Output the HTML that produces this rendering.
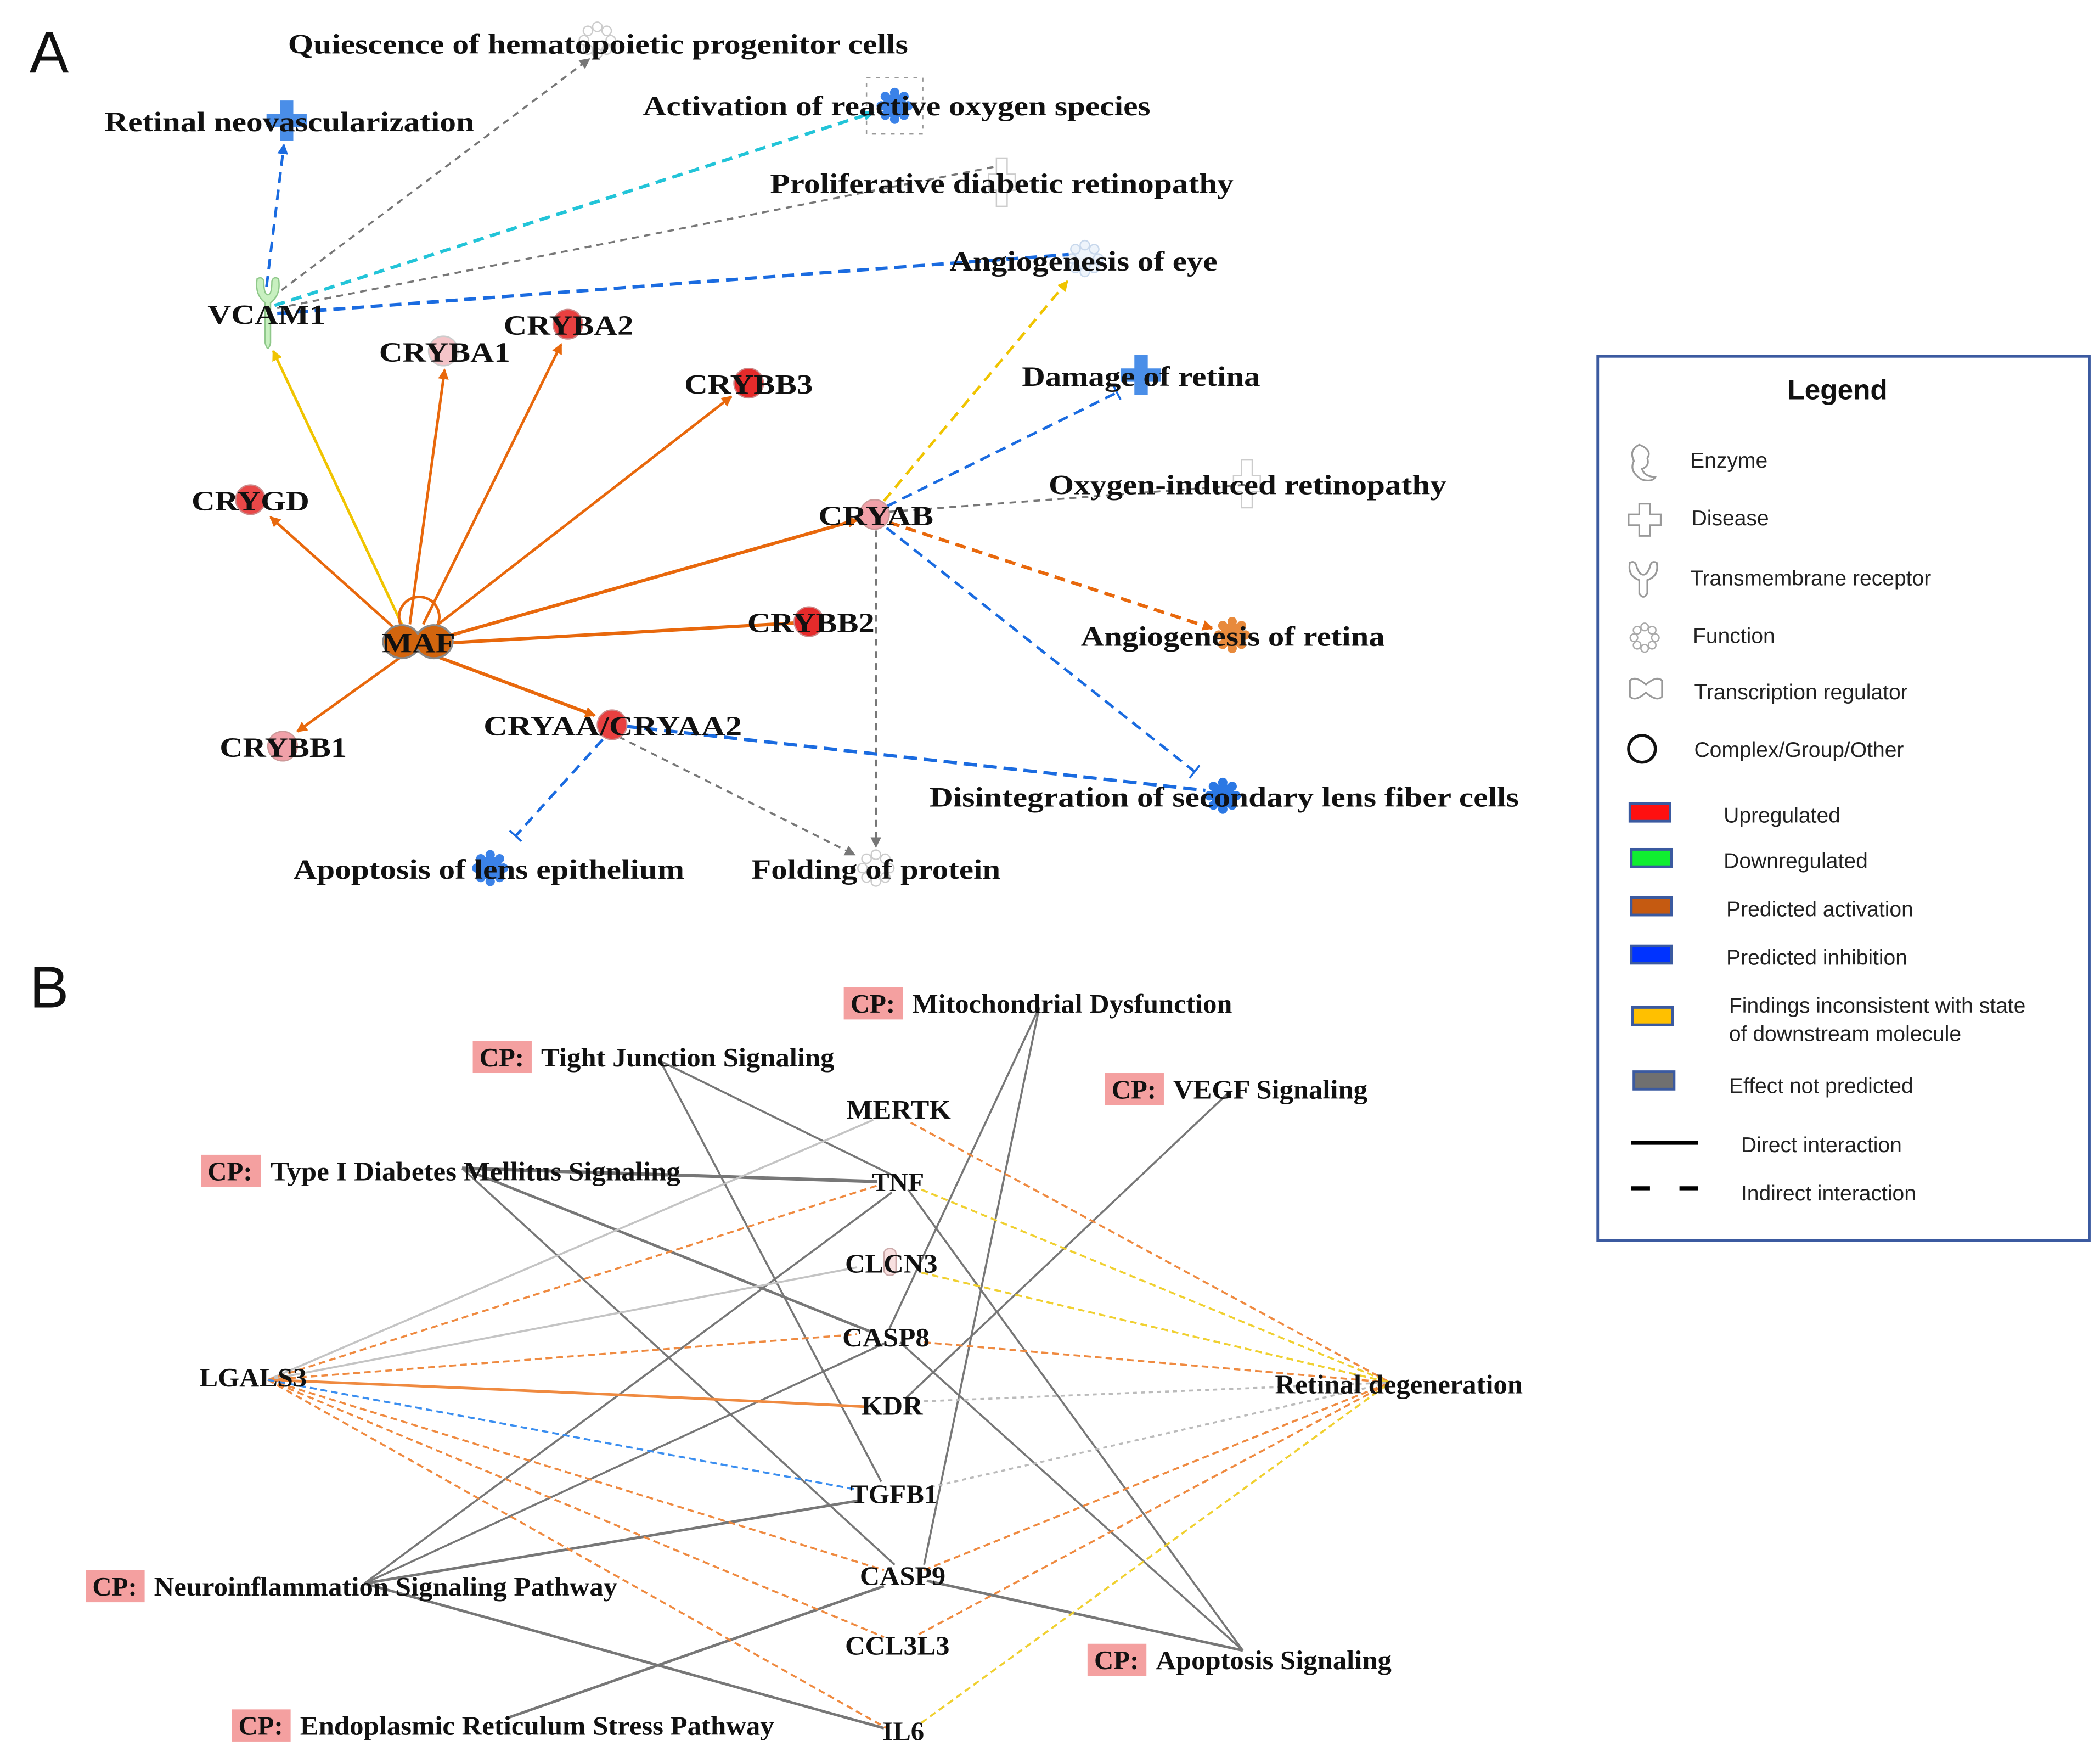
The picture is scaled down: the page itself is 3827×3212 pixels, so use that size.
<!DOCTYPE html>
<html><head><meta charset="utf-8"><style>
html,body{margin:0;padding:0;background:#fff}
svg{display:block}
.n{font-family:"Liberation Serif",serif;font-weight:bold;font-size:21px;fill:#111}
.s{font-family:"Liberation Sans",sans-serif;font-size:16px;fill:#222}
</style></head><body>
<svg width="3827" height="3212" viewBox="0 0 1568 1316" xmlns="http://www.w3.org/2000/svg">
<defs>
<marker id="ao" markerWidth="8" markerHeight="8" refX="7" refY="4" orient="auto" markerUnits="userSpaceOnUse"><path d="M0,0L8,4L0,8z" fill="#e8680c"/></marker>
<marker id="ay" markerWidth="8" markerHeight="8" refX="7" refY="4" orient="auto" markerUnits="userSpaceOnUse"><path d="M0,0L8,4L0,8z" fill="#f0c400"/></marker>
<marker id="ag" markerWidth="8" markerHeight="8" refX="7" refY="4" orient="auto" markerUnits="userSpaceOnUse"><path d="M0,0L8,4L0,8z" fill="#777"/></marker>
<marker id="ab" markerWidth="8" markerHeight="8" refX="7" refY="4" orient="auto" markerUnits="userSpaceOnUse"><path d="M0,0L8,4L0,8z" fill="#1a6be0"/></marker>
<marker id="ac" markerWidth="8" markerHeight="8" refX="7" refY="4" orient="auto" markerUnits="userSpaceOnUse"><path d="M0,0L8,4L0,8z" fill="#22c4d8"/></marker>
<marker id="tb" markerWidth="4" markerHeight="12" refX="2" refY="6" orient="auto" markerUnits="userSpaceOnUse"><path d="M2,0L2,12" stroke="#1a6be0" stroke-width="1.5"/></marker>
<g id="gear"><circle r="9"/><circle cx="0" cy="-10" r="3.5"/><circle cx="0" cy="10" r="3.5"/><circle cx="10" cy="0" r="3.5"/><circle cx="-10" cy="0" r="3.5"/><circle cx="7" cy="7" r="3.5"/><circle cx="-7" cy="7" r="3.5"/><circle cx="7" cy="-7" r="3.5"/><circle cx="-7" cy="-7" r="3.5"/></g>
<path id="cross" d="M-5,-15H5V-5H15V5H5V15H-5V5H-15V-5H-5Z"/>
</defs>

<text x="22" y="54" font-family="Liberation Sans,sans-serif" font-size="44" fill="#111">A</text>
<text x="22" y="752" font-family="Liberation Sans,sans-serif" font-size="44" fill="#111">B</text>

<!-- Panel A icons -->
<use href="#gear" x="446" y="30" fill="#fff" stroke="#ccc" stroke-width="1"/>
<use href="#cross" x="214" y="90" fill="#4a8ee8"/>
<rect x="647" y="58" width="42" height="42" fill="none" stroke="#999" stroke-dasharray="3,4"/>
<use href="#gear" x="668" y="79" fill="#3b82e8"/>
<path d="M744,118h8v12h6v12h-6v12h-8v-12h-6v-12h6z" fill="#fff" stroke="#ccc"/>
<use href="#gear" x="810" y="193" fill="#eef4fb" stroke="#c8d8ec"/>
<use href="#cross" x="852" y="280" fill="#4a8ee8"/>
<path d="M927,343h8v12h6v12h-6v12h-8v-12h-6v-12h6z" fill="#fff" stroke="#ccc"/>
<use href="#gear" x="920" y="474" fill="#e88a3c"/>
<use href="#gear" x="913" y="594" fill="#2b78e4"/>
<use href="#gear" x="366" y="648" fill="#3b82e8"/>
<use href="#gear" x="654" y="648" fill="#fff" stroke="#ccc"/>

<!-- Panel A edges -->
<g fill="none" stroke-width="2">
<line x1="199" y1="214" x2="212" y2="108" stroke="#1a6be0" stroke-dasharray="8,5" marker-end="url(#ab)"/>
<line x1="203" y1="222" x2="440" y2="44" stroke="#777" stroke-width="1.5" stroke-dasharray="5,4" marker-end="url(#ag)"/>
<line x1="205" y1="228" x2="652" y2="84" stroke="#22c4d8" stroke-width="2.5" stroke-dasharray="8,5" marker-end="url(#ac)"/>
<line x1="207" y1="230" x2="745" y2="124" stroke="#777" stroke-width="1.5" stroke-dasharray="5,4"/>
<line x1="207" y1="234" x2="798" y2="190" stroke="#1a6be0" stroke-width="2.5" stroke-dasharray="9,5"/>
<line x1="300" y1="466" x2="204" y2="262" stroke="#f0c400" marker-end="url(#ay)"/>
<line x1="306" y1="466" x2="332" y2="276" stroke="#e8680c" marker-end="url(#ao)"/>
<line x1="316" y1="466" x2="419" y2="257" stroke="#e8680c" marker-end="url(#ao)"/>
<line x1="322" y1="470" x2="546" y2="296" stroke="#e8680c" marker-end="url(#ao)"/>
<line x1="298" y1="472" x2="202" y2="386" stroke="#e8680c" marker-end="url(#ao)"/>
<line x1="330" y1="476" x2="640" y2="388" stroke="#e8680c" stroke-width="2.5" marker-end="url(#ao)"/>
<line x1="334" y1="480" x2="594" y2="465" stroke="#e8680c" stroke-width="2.5"/>
<line x1="300" y1="490" x2="222" y2="546" stroke="#e8680c" marker-end="url(#ao)"/>
<line x1="326" y1="490" x2="444" y2="534" stroke="#e8680c" stroke-width="2.5" marker-end="url(#ao)"/>
<path d="M300,468 A15,15 0 1 1 326,468" stroke="#e8680c"/>
<line x1="660" y1="374" x2="797" y2="210" stroke="#f0c400" stroke-dasharray="8,5" marker-end="url(#ay)"/>
<line x1="662" y1="378" x2="834" y2="293" stroke="#1a6be0" stroke-dasharray="8,5" marker-end="url(#tb)"/>
<line x1="664" y1="382" x2="930" y2="362" stroke="#777" stroke-width="1.5" stroke-dasharray="5,4"/>
<line x1="664" y1="390" x2="905" y2="469" stroke="#e8680c" stroke-width="2.5" stroke-dasharray="8,5" marker-end="url(#ao)"/>
<line x1="662" y1="394" x2="892" y2="576" stroke="#1a6be0" stroke-dasharray="8,5" marker-end="url(#tb)"/>
<line x1="654" y1="396" x2="654" y2="632" stroke="#777" stroke-width="1.5" stroke-dasharray="5,4" marker-end="url(#ag)"/>
<line x1="450" y1="552" x2="385" y2="624" stroke="#1a6be0" stroke-dasharray="8,5" marker-end="url(#tb)"/>
<line x1="462" y1="550" x2="638" y2="638" stroke="#777" stroke-width="1.5" stroke-dasharray="5,4" marker-end="url(#ag)"/>
<line x1="466" y1="542" x2="900" y2="590" stroke="#1a6be0" stroke-width="2.5" stroke-dasharray="10,5"/>
</g>

<!-- Panel A nodes -->
<path d="M192,208 q-2,12 6,18 v30 q2,8 4,0 v-30 q8,-6 6,-18 q-4,-2 -5,2 q0,10 -3,10 q-3,0 -3,-10 q-1,-4 -5,-2z" fill="#c8f0c0" stroke="#8fc88a"/>
<circle cx="331" cy="262" r="11" fill="#f4c4c8" stroke="#ccc"/>
<circle cx="424" cy="242" r="11" fill="#e84040" stroke="#c88"/>
<circle cx="559" cy="286" r="11" fill="#e52b2b" stroke="#c88"/>
<circle cx="187" cy="373" r="11" fill="#e84848" stroke="#c88"/>
<circle cx="653" cy="384" r="11" fill="#f0a0a8" stroke="#c99"/>
<circle cx="604" cy="464" r="11" fill="#e52b2b" stroke="#c88"/>
<circle cx="211" cy="557" r="11" fill="#f0a0a8" stroke="#c99"/>
<circle cx="457" cy="541" r="11" fill="#e84040" stroke="#c88"/>
<path d="M286,479 a14,13 0 0 1 26,-6 a14,13 0 0 1 26,6 a14,13 0 0 1 -26,6 a14,13 0 0 1 -26,-6z" fill="#d2650e" stroke="#888" stroke-width="1.5"/>

<!-- Panel A labels -->
<g class="n">
<text x="215" y="40" textLength="463" lengthAdjust="spacingAndGlyphs">Quiescence of hematopoietic progenitor cells</text>
<text x="78" y="98" textLength="276" lengthAdjust="spacingAndGlyphs">Retinal neovascularization</text>
<text x="480" y="86" textLength="379" lengthAdjust="spacingAndGlyphs">Activation of reactive oxygen species</text>
<text x="575" y="144" textLength="346" lengthAdjust="spacingAndGlyphs">Proliferative diabetic retinopathy</text>
<text x="709" y="202" textLength="200" lengthAdjust="spacingAndGlyphs">Angiogenesis of eye</text>
<text x="155" y="242" textLength="88" lengthAdjust="spacingAndGlyphs">VCAM1</text>
<text x="283" y="270" textLength="98" lengthAdjust="spacingAndGlyphs">CRYBA1</text>
<text x="376" y="250" textLength="97" lengthAdjust="spacingAndGlyphs">CRYBA2</text>
<text x="511" y="294" textLength="96" lengthAdjust="spacingAndGlyphs">CRYBB3</text>
<text x="143" y="381" textLength="88" lengthAdjust="spacingAndGlyphs">CRYGD</text>
<text x="611" y="392" textLength="86" lengthAdjust="spacingAndGlyphs">CRYAB</text>
<text x="285" y="487" textLength="55" lengthAdjust="spacingAndGlyphs">MAF</text>
<text x="558" y="472" textLength="95" lengthAdjust="spacingAndGlyphs">CRYBB2</text>
<text x="164" y="565" textLength="95" lengthAdjust="spacingAndGlyphs">CRYBB1</text>
<text x="361" y="549" textLength="193" lengthAdjust="spacingAndGlyphs">CRYAA/CRYAA2</text>
<text x="763" y="288" textLength="178" lengthAdjust="spacingAndGlyphs">Damage of retina</text>
<text x="783" y="369" textLength="297" lengthAdjust="spacingAndGlyphs">Oxygen-induced retinopathy</text>
<text x="807" y="482" textLength="227" lengthAdjust="spacingAndGlyphs">Angiogenesis of retina</text>
<text x="694" y="602" textLength="440" lengthAdjust="spacingAndGlyphs">Disintegration of secondary lens fiber cells</text>
<text x="219" y="656" textLength="292" lengthAdjust="spacingAndGlyphs">Apoptosis of lens epithelium</text>
<text x="561" y="656" textLength="186" lengthAdjust="spacingAndGlyphs">Folding of protein</text>
</g>

<!-- Panel B edges -->
<g fill="none" stroke-width="1.5">
<g stroke="#777">
<line x1="776" y1="752" x2="664" y2="992"/>
<line x1="776" y1="752" x2="690" y2="1168"/>
<line x1="493" y1="792" x2="658" y2="1106"/>
<line x1="493" y1="792" x2="668" y2="878"/>
<line x1="918" y1="815" x2="676" y2="1044"/>
<line x1="345" y1="872" x2="655" y2="882" stroke-width="2.5"/>
<line x1="345" y1="872" x2="650" y2="994" stroke-width="2"/>
<line x1="345" y1="872" x2="668" y2="1168"/>
<line x1="272" y1="1182" x2="666" y2="890"/>
<line x1="272" y1="1182" x2="662" y2="1002"/>
<line x1="272" y1="1182" x2="642" y2="1120" stroke-width="2"/>
<line x1="272" y1="1182" x2="660" y2="1290" stroke-width="2"/>
<line x1="380" y1="1282" x2="660" y2="1184" stroke-width="2"/>
<line x1="928" y1="1232" x2="678" y2="888"/>
<line x1="928" y1="1232" x2="672" y2="1002"/>
<line x1="928" y1="1232" x2="692" y2="1180" stroke-width="2"/>
</g>
<line x1="200" y1="1030" x2="652" y2="836" stroke="#c4c4c4"/>
<line x1="200" y1="1030" x2="640" y2="946" stroke="#c4c4c4"/>
<g stroke="#ef8a40" stroke-dasharray="5,3">
<line x1="200" y1="1030" x2="655" y2="885"/>
<line x1="200" y1="1030" x2="640" y2="996"/>
<line x1="200" y1="1030" x2="660" y2="1172"/>
<line x1="200" y1="1030" x2="660" y2="1222"/>
<line x1="200" y1="1030" x2="662" y2="1290"/>
<line x1="680" y1="838" x2="1038" y2="1032"/>
<line x1="690" y1="1002" x2="1038" y2="1032"/>
<line x1="690" y1="1172" x2="1038" y2="1032"/>
<line x1="686" y1="1220" x2="1038" y2="1032"/>
</g>
<path d="M200,1030 Q450,1040 645,1050" stroke="#ef8a40" stroke-width="2"/>
<line x1="200" y1="1030" x2="640" y2="1112" stroke="#3a8ef0" stroke-dasharray="5,3"/>
<g stroke="#f0d030" stroke-dasharray="5,3">
<line x1="688" y1="888" x2="1038" y2="1032"/>
<line x1="688" y1="950" x2="1038" y2="1032"/>
<line x1="688" y1="1286" x2="1038" y2="1032"/>
</g>
<g stroke="#bbb" stroke-dasharray="3,3">
<line x1="690" y1="1046" x2="1038" y2="1032"/>
<line x1="695" y1="1110" x2="1038" y2="1032"/>
</g>
</g>
<rect x="660" y="932" width="9" height="20" rx="4" fill="#f8e0e0" stroke="#caa"/>

<!-- CP boxes -->
<g fill="#f4a0a0">
<rect x="630" y="737" width="44" height="24"/>
<rect x="353" y="777" width="44" height="24"/>
<rect x="825" y="801" width="44" height="24"/>
<rect x="150" y="862" width="45" height="24"/>
<rect x="64" y="1172" width="44" height="24"/>
<rect x="173" y="1276" width="44" height="24"/>
<rect x="812" y="1227" width="44" height="24"/>
</g>
<g class="n" style="font-size:20px">
<text x="635" y="756">CP:</text><text x="681" y="756" textLength="239" lengthAdjust="spacingAndGlyphs">Mitochondrial Dysfunction</text>
<text x="358" y="796">CP:</text><text x="404" y="796" textLength="219" lengthAdjust="spacingAndGlyphs">Tight Junction Signaling</text>
<text x="830" y="820">CP:</text><text x="876" y="820" textLength="145" lengthAdjust="spacingAndGlyphs">VEGF Signaling</text>
<text x="155" y="881">CP:</text><text x="202" y="881" textLength="306" lengthAdjust="spacingAndGlyphs">Type I Diabetes Mellitus Signaling</text>
<text x="69" y="1191">CP:</text><text x="115" y="1191" textLength="346" lengthAdjust="spacingAndGlyphs">Neuroinflammation Signaling Pathway</text>
<text x="178" y="1295">CP:</text><text x="224" y="1295" textLength="354" lengthAdjust="spacingAndGlyphs">Endoplasmic Reticulum Stress Pathway</text>
<text x="817" y="1246">CP:</text><text x="863" y="1246" textLength="176" lengthAdjust="spacingAndGlyphs">Apoptosis Signaling</text>
<text x="632" y="835" textLength="78" lengthAdjust="spacingAndGlyphs">MERTK</text>
<text x="651" y="889" textLength="39" lengthAdjust="spacingAndGlyphs">TNF</text>
<text x="631" y="950" textLength="69" lengthAdjust="spacingAndGlyphs">CLCN3</text>
<text x="629" y="1005" textLength="65" lengthAdjust="spacingAndGlyphs">CASP8</text>
<text x="643" y="1056" textLength="46" lengthAdjust="spacingAndGlyphs">KDR</text>
<text x="635" y="1122" textLength="65" lengthAdjust="spacingAndGlyphs">TGFB1</text>
<text x="642" y="1183" textLength="64" lengthAdjust="spacingAndGlyphs">CASP9</text>
<text x="631" y="1235" textLength="78" lengthAdjust="spacingAndGlyphs">CCL3L3</text>
<text x="659" y="1299" textLength="31" lengthAdjust="spacingAndGlyphs">IL6</text>
<text x="149" y="1035" textLength="80" lengthAdjust="spacingAndGlyphs">LGALS3</text>
<text x="952" y="1040" textLength="185" lengthAdjust="spacingAndGlyphs">Retinal degeneration</text>
</g>

<!-- Legend -->
<rect x="1193" y="266" width="367" height="660" fill="#fff" stroke="#3b5aa0" stroke-width="2"/>
<text x="1372" y="298" text-anchor="middle" font-family="Liberation Sans,sans-serif" font-weight="bold" font-size="21" fill="#111">Legend</text>
<g fill="none" stroke="#999" stroke-width="1.3">
<path d="M1224,332 q-8,4 -4,12 q-4,8 6,14 q8,2 10,-2 q-8,0 -10,-6 q6,-2 4,-8 q4,-6 -6,-10z"/>
<path d="M1224,376h8v8h8v8h-8v8h-8v-8h-8v-8h8z"/>
<path d="M1217,420 q-2,10 7,13 v10 q3,5 6,0 v-10 q9,-3 7,-13 q-4,-2 -5,3 q-2,6 -5,6 q-3,0 -5,-6 q-1,-5 -5,-3z"/>
<use href="#gear" x="1228" y="476" transform="translate(1228 476) scale(0.8) translate(-1228 -476)" fill="#fff" stroke="#aaa"/>
<path d="M1217,508 q4,-4 12,3 q8,-7 12,-3 v12 q-4,4 -12,-3 q-8,7 -12,3z"/>
</g>
<ellipse cx="1226" cy="559" rx="10" ry="10" fill="none" stroke="#111" stroke-width="2.2"/>
<g stroke="#3b5aa0" stroke-width="2">
<rect x="1217" y="600" width="30" height="13" fill="#ff1010"/>
<rect x="1218" y="634" width="30" height="13" fill="#10ee30"/>
<rect x="1218" y="670" width="30" height="13" fill="#c55a11"/>
<rect x="1218" y="706" width="30" height="13" fill="#0033ff"/>
<rect x="1219" y="752" width="30" height="13" fill="#ffc000"/>
<rect x="1220" y="800" width="30" height="13" fill="#707070"/>
</g>
<line x1="1218" y1="853" x2="1268" y2="853" stroke="#000" stroke-width="3"/>
<line x1="1218" y1="887" x2="1268" y2="887" stroke="#000" stroke-width="3" stroke-dasharray="14,22"/>
<g class="s">
<text x="1262" y="349">Enzyme</text>
<text x="1263" y="392">Disease</text>
<text x="1262" y="437">Transmembrane receptor</text>
<text x="1264" y="480">Function</text>
<text x="1265" y="522">Transcription regulator</text>
<text x="1265" y="565">Complex/Group/Other</text>
<text x="1287" y="614">Upregulated</text>
<text x="1287" y="648">Downregulated</text>
<text x="1289" y="684">Predicted activation</text>
<text x="1289" y="720">Predicted inhibition</text>
<text x="1291" y="756">Findings inconsistent with state</text>
<text x="1291" y="777">of downstream molecule</text>
<text x="1291" y="816">Effect not predicted</text>
<text x="1300" y="860">Direct interaction</text>
<text x="1300" y="896">Indirect interaction</text>
</g>
</svg>
</body></html>
